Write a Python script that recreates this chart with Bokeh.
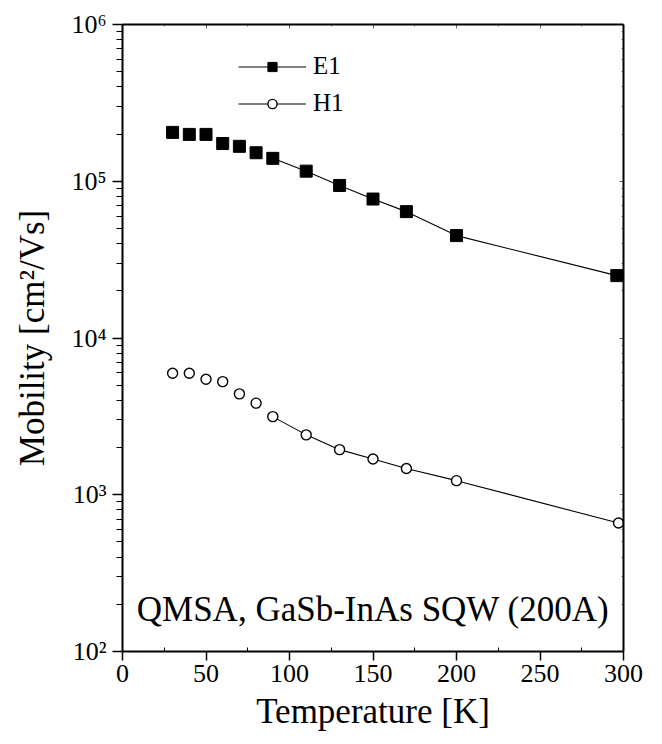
from bokeh.plotting import figure
from bokeh.models import (LinearAxis, LogAxis, FixedTicker, Legend, LegendItem,
                          Label, ColumnDataSource, Range1d)
from bokeh.embed import file_html
from bokeh.resources import INLINE

# ---- data ----
temp_e1 = [30, 40, 50, 60, 70, 80, 90, 110, 130, 150, 170, 200, 296]
mob_e1 = [2.05e5, 1.99e5, 1.99e5, 1.74e5, 1.67e5, 1.52e5, 1.40e5, 1.16e5,
          9.4e4, 7.7e4, 6.4e4, 4.5e4, 2.5e4]
temp_h1 = [30, 40, 50, 60, 70, 80, 90, 110, 130, 150, 170, 200, 297]
mob_h1 = [5.96e3, 5.96e3, 5.46e3, 5.27e3, 4.40e3, 3.84e3, 3.15e3, 2.41e3,
          1.94e3, 1.69e3, 1.47e3, 1.23e3, 6.6e2]
line_start_temp = 90          # connecting line drawn from this temperature on
x_ticks = [0, 50, 100, 150, 200, 250, 300]
x_minor = [25, 75, 125, 175, 225, 275]
y_ticks = [1e2, 1e3, 1e4, 1e5, 1e6]
y_tick_labels = ["10²", "10³", "10⁴", "10⁵", "10⁶"]
series_labels = ["E1", "H1"]
note_text = "QMSA, GaSb-InAs SQW (200A)"
x_title = "Temperature [K]"
y_title = "Mobility [cm²/Vs]"

FONT = "Liberation Serif"

src_e1 = ColumnDataSource(dict(t=temp_e1, m=mob_e1))
src_h1 = ColumnDataSource(dict(t=temp_h1, m=mob_h1))
src_e1_line = ColumnDataSource(dict(t=[t for t in temp_e1 if t >= line_start_temp],
                                    m=[m for t, m in zip(temp_e1, mob_e1) if t >= line_start_temp]))
src_h1_line = ColumnDataSource(dict(t=[t for t in temp_h1 if t >= line_start_temp],
                                    m=[m for t, m in zip(temp_h1, mob_h1) if t >= line_start_temp]))

y_minor = [k * 10 ** e for e in range(2, 6) for k in range(2, 10)]

p = figure(frame_width=501, frame_height=627,
           x_range=Range1d(0, 300), y_range=Range1d(1e2, 1e6),
           y_axis_type="log", output_backend="svg", toolbar_location=None,
           min_border_left=122, min_border_right=30, min_border_top=24,
           min_border_bottom=85)
p.outline_line_color = None
p.grid.visible = False
p.background_fill_color = "white"
p.border_fill_color = "white"

# bottom axis
xa = p.xaxis[0]
xa.ticker = FixedTicker(ticks=x_ticks, minor_ticks=x_minor)
xa.axis_line_width = 2
xa.axis_line_color = "black"
xa.major_tick_line_width = 1.5
xa.major_tick_out = 9
xa.major_tick_in = 0
xa.minor_tick_in = 4
xa.minor_tick_out = 0
xa.major_label_text_font = FONT
xa.major_label_text_font_size = "26px"
xa.major_label_text_color = "black"
xa.major_label_standoff = 4
xa.axis_label = x_title
xa.axis_label_text_font = FONT
xa.axis_label_text_font_size = "35px"
xa.axis_label_text_font_style = "normal"
xa.axis_label_text_color = "black"
xa.axis_label_standoff = 7

# left axis
ya = p.yaxis[0]
ya.ticker = FixedTicker(ticks=y_ticks, minor_ticks=y_minor)
ya.major_label_overrides = {v: s for v, s in zip(y_ticks, y_tick_labels)}
ya.axis_line_width = 2
ya.axis_line_color = "black"
ya.major_tick_line_width = 1.5
ya.major_tick_out = 10
ya.major_tick_in = 0
ya.minor_tick_out = 6
ya.minor_tick_in = 0
ya.major_label_text_font = FONT
ya.major_label_text_font_size = "26px"
ya.major_label_text_color = "black"
ya.major_label_standoff = 6
ya.axis_label = y_title
ya.axis_label_text_font = FONT
ya.axis_label_text_font_size = "35px"
ya.axis_label_text_font_style = "normal"
ya.axis_label_text_color = "black"
ya.axis_label_standoff = 16

# mirrored frame axes (top / right), labels hidden
top = LinearAxis(ticker=FixedTicker(ticks=x_ticks, minor_ticks=x_minor),
                 major_label_text_font_size="2px", major_label_text_alpha=0,
                 axis_line_width=2,
                 major_tick_in=4, major_tick_out=0, minor_tick_in=2, minor_tick_out=0,
                 major_label_standoff=0, major_tick_line_alpha=0.6, minor_tick_line_alpha=0.5)
right = LogAxis(ticker=FixedTicker(ticks=y_ticks, minor_ticks=y_minor),
                major_label_text_font_size="2px", major_label_text_alpha=0,
                axis_line_width=2,
                major_tick_in=4, major_tick_out=0, minor_tick_in=2, minor_tick_out=0,
                major_label_standoff=0, major_tick_line_alpha=0.6, minor_tick_line_alpha=0.5)
p.add_layout(top, "above")
p.add_layout(right, "right")

# data
l_e1 = p.line("t", "m", source=src_e1_line, line_color="black", line_width=1.1)
s_e1 = p.scatter("t", "m", source=src_e1, marker="square", size=12,
                 fill_color="black", line_color="black")
l_h1 = p.line("t", "m", source=src_h1_line, line_color="black", line_width=1.1)
s_h1 = p.scatter("t", "m", source=src_h1, marker="circle", size=10,
                 fill_color="white", line_color="black", line_width=1.4)

legend = Legend(items=[LegendItem(label=series_labels[0], renderers=[l_e1, s_e1]),
                       LegendItem(label=series_labels[1], renderers=[l_h1, s_h1])],
                location=(116, 533), orientation="vertical",
                glyph_width=68, glyph_height=23, label_height=30,
                label_standoff=7, spacing=7, padding=0, margin=0,
                label_text_font=FONT, label_text_font_size="25px",
                label_text_color="black",
                border_line_color=None, background_fill_alpha=0)
p.add_layout(legend)

note = Label(x=150, y=185, text=note_text, text_align="center",
             text_baseline="alphabetic", text_font=FONT, text_font_size="35px",
             text_color="black")
p.add_layout(note)

open("out.html", "w").write(file_html(p, INLINE))
